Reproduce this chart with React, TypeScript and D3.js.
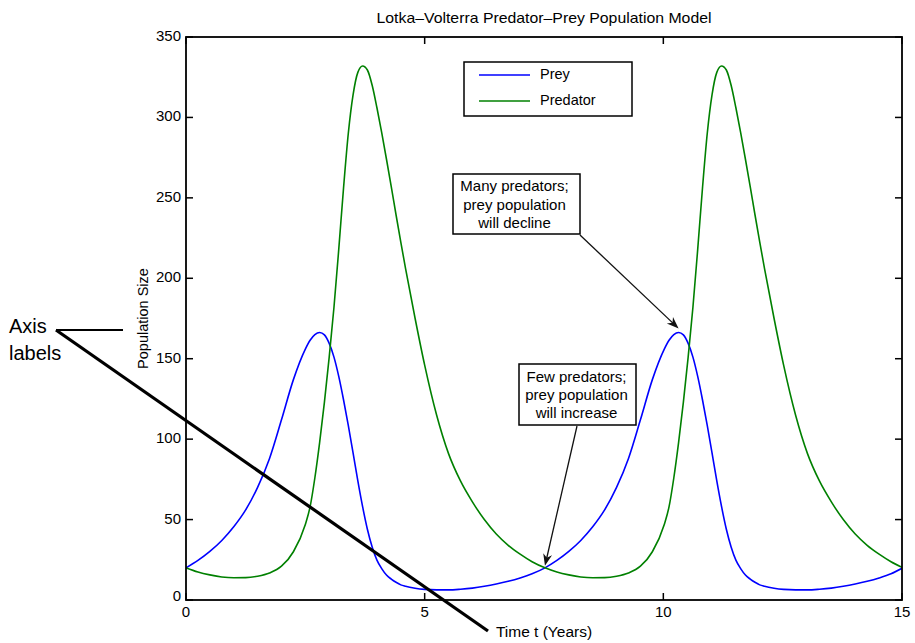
import React from 'react';
import * as d3 from 'd3';

// Time (years) sample points
const years = [
  0, 0.25, 0.5, 0.75, 1, 1.25, 1.5, 1.75, 2, 2.25, 2.5, 2.6, 2.7, 2.8, 2.9, 3, 3.1, 3.2, 3.3, 3.4, 3.5,
  3.6, 3.7, 3.8, 3.9, 4, 4.1, 4.2, 4.3, 4.4, 4.5, 4.6, 4.8, 5, 5.25, 5.5, 5.75, 6, 6.25, 6.5, 6.75, 7, 7.25,
  7.52, 7.77, 8.02, 8.27, 8.52, 8.77, 9.02, 9.27, 9.52, 9.77, 10.02, 10.12, 10.22, 10.32, 10.42, 10.52,
  10.62, 10.72, 10.82, 10.92, 11.02, 11.12, 11.22, 11.32, 11.42, 11.52, 11.62, 11.72, 11.82, 11.92, 12.02,
  12.12, 12.32, 12.52, 12.77, 13.02, 13.27, 13.52, 13.77, 14.02, 14.27, 14.52, 14.77, 15,
];

const prey = [
  20, 24.6, 30.2, 37, 45.5, 56, 70, 88, 112, 137, 156, 161.5, 165, 166.3, 164.8, 159.5, 151, 139, 124.5, 108.5, 91.5,
  74, 58, 44, 33, 24.8, 19.5, 15.5, 13, 11, 9.4, 8.5, 7.3, 6.6, 6.3, 6.3, 6.7, 7.4, 8.5, 9.9, 11.6, 13.7, 16.3,
  20, 24.6, 30.2, 37, 45.5, 56, 70, 88, 112, 137, 156, 161.5, 165, 166.3, 164.8, 159.5, 151, 139, 124.5, 108.5, 91.5,
  74, 58, 44, 33, 24.8, 19.5, 15.5, 13, 11, 9.4, 8.5, 7.3, 6.6, 6.3, 6.3, 6.7, 7.4, 8.5, 9.9, 11.6, 13.7, 16.3,
  19.7,
];

const predator = [
  20, 17.4, 15.6, 14.3, 13.8, 13.9, 14.8, 16.8, 21, 30, 47, 58, 76, 98, 123, 151, 182, 218, 256, 290, 314,
  328, 332, 329.5, 320, 306, 290.5, 274, 257, 239.5, 222.5, 206, 175, 146, 115, 91, 74, 61, 50, 41, 34, 28.5, 23.8,
  20, 17.4, 15.6, 14.3, 13.8, 13.9, 14.8, 16.8, 21, 30, 47, 58, 76, 98, 123, 151, 182, 218, 256, 290, 314,
  328, 332, 329.5, 320, 306, 290.5, 274, 257, 239.5, 222.5, 206, 175, 146, 115, 91, 74, 61, 50, 41, 34, 28.5, 23.8,
  20.3,
];

const seriesNames = ['Prey', 'Predator'];
const seriesColors = ['#0000ff', '#008000'];
const yTicks = [0, 50, 100, 150, 200, 250, 300, 350];
const xTicks = [0, 5, 10, 15];
const titleText = 'Lotka–Volterra Predator–Prey Population Model';
const xLabel = 'Time t (Years)';
const yLabel = 'Population Size';
const noteDecline = ['Many predators;', 'prey population', 'will decline'];
const noteIncrease = ['Few predators;', 'prey population', 'will increase'];
const calloutLines = ['Axis', 'labels'];

const FONT = '"Liberation Sans", Arial, Helvetica, sans-serif';

function arrow(x1: number, y1: number, x2: number, y2: number, key: string) {
  const dx = x2 - x1;
  const dy = y2 - y1;
  const len = Math.sqrt(dx * dx + dy * dy);
  const ux = dx / len;
  const uy = dy / len;
  const L = 12;
  const w = 4.5;
  const bx = x2 - ux * L;
  const by = y2 - uy * L;
  const px = -uy;
  const py = ux;
  const pts = `${x2},${y2} ${bx + px * w},${by + py * w} ${x2 - ux * L * 0.7},${y2 - uy * L * 0.7} ${bx - px * w},${by - py * w}`;
  return (
    <g key={key}>
      <line x1={x1} y1={y1} x2={x2 - ux * 6} y2={y2 - uy * 6} stroke="#111" strokeWidth={1.3} />
      <polygon points={pts} fill="#111" />
    </g>
  );
}

export default function App() {
  const W = 915;
  const H = 643;
  const left = 186;
  const right = 902;
  const top = 37;
  const bottom = 600;

  const x = d3.scaleLinear().domain([0, 15]).range([left, right]);
  const y = d3.scaleLinear().domain([0, 350]).range([bottom, top]);

  const line = d3
    .line<number>()
    .x((_, i) => x(years[i]))
    .y((d) => y(d))
    .curve(d3.curveMonotoneX);

  const series = [prey, predator];
  const tickLen = 7;

  // annotation targets from data
  const peakIdx = years.indexOf(10.32);
  const crossIdx = years.indexOf(7.52);
  const declineTip = [x(years[peakIdx]), y(prey[peakIdx]) - 4];
  const increaseTip = [x(years[crossIdx]), y(prey[crossIdx]) - 2];

  const declineBox = { x: 453, y: 174, w: 127, h: 60 };
  const increaseBox = { x: 519, y: 364, w: 117, h: 61 };

  return (
    <svg
      width={W}
      height={H}
      style={{ position: 'absolute', left: 0, top: 0, background: '#fff' }}
      fontFamily={FONT}
    >
      <rect x={0} y={0} width={W} height={H} fill="#fff" />

      {/* Title */}
      <text
        x={(left + right) / 2}
        y={23}
        textAnchor="middle"
        fontSize={14.5}
        textLength={335}
        lengthAdjust="spacingAndGlyphs"
        fill="#000"
      >
        {titleText}
      </text>

      <defs>
        <clipPath id="plotClip">
          <rect x={left} y={top} width={right - left} height={bottom - top} />
        </clipPath>
      </defs>

      {/* Series */}
      <g clipPath="url(#plotClip)">
        {series.map((s, k) => (
          <path key={seriesNames[k]} d={line(s) || ''} fill="none" stroke={seriesColors[k]} strokeWidth={1.6} />
        ))}
      </g>

      {/* Frame */}
      <rect x={left} y={top} width={right - left} height={bottom - top} fill="none" stroke="#000" strokeWidth={1.8} />

      {/* Y ticks */}
      {yTicks.map((t) => (
        <g key={'y' + t}>
          <line x1={left} x2={left + tickLen} y1={y(t)} y2={y(t)} stroke="#000" strokeWidth={1.5} />
          <line x1={right} x2={right - tickLen} y1={y(t)} y2={y(t)} stroke="#000" strokeWidth={1.5} />
          <text x={left - 5} y={y(t) - (t === 0 ? 3 : 0)} textAnchor="end" dominantBaseline="middle" fontSize={15} fill="#000">
            {t}
          </text>
        </g>
      ))}

      {/* X ticks */}
      {xTicks.map((t) => (
        <g key={'x' + t}>
          <line x1={x(t)} x2={x(t)} y1={bottom} y2={bottom - tickLen} stroke="#000" strokeWidth={1.5} />
          <line x1={x(t)} x2={x(t)} y1={top} y2={top + tickLen} stroke="#000" strokeWidth={1.5} />
          <text x={x(t)} y={617} textAnchor="middle" fontSize={15} fill="#000">
            {t}
          </text>
        </g>
      ))}

      {/* Axis labels */}
      <text x={(left + right) / 2} y={637} textAnchor="middle" fontSize={15.5} fill="#000">
        {xLabel}
      </text>
      <text
        transform={`translate(148,${(top + bottom) / 2}) rotate(-90)`}
        textAnchor="middle"
        fontSize={14.5}
        fill="#000"
      >
        {yLabel}
      </text>

      {/* Legend */}
      <rect x={464} y={62} width={168} height={54} fill="#fff" stroke="#000" strokeWidth={1.5} />
      {seriesNames.map((n, k) => (
        <g key={'lg' + n}>
          <line x1={479} x2={530} y1={75 + k * 26} y2={75 + k * 26} stroke={seriesColors[k]} strokeWidth={1.6} />
          <text x={540} y={75 + k * 26} dominantBaseline="middle" fontSize={14.5} fill="#000">
            {n}
          </text>
        </g>
      ))}

      {/* Annotation: decline */}
      <rect x={declineBox.x} y={declineBox.y} width={declineBox.w} height={declineBox.h} fill="#fff" stroke="#000" strokeWidth={1.5} />
      {noteDecline.map((s, i) => (
        <text key={'nd' + i} x={declineBox.x + declineBox.w / 2 - 2} y={191 + i * 18.5} textAnchor="middle" fontSize={15} fill="#000">
          {s}
        </text>
      ))}
      {arrow(declineBox.x + declineBox.w, declineBox.y + declineBox.h + 1, declineTip[0], declineTip[1], 'a1')}

      {/* Annotation: increase */}
      <rect x={increaseBox.x} y={increaseBox.y} width={increaseBox.w} height={increaseBox.h} fill="#fff" stroke="#000" strokeWidth={1.5} />
      {noteIncrease.map((s, i) => (
        <text key={'ni' + i} x={increaseBox.x + increaseBox.w / 2 - 1} y={382 + i * 18} textAnchor="middle" fontSize={15} fill="#000">
          {s}
        </text>
      ))}
      {arrow(577, increaseBox.y + increaseBox.h + 1, increaseTip[0], increaseTip[1], 'a2')}

      {/* Callout "Axis labels" */}
      {calloutLines.map((s, i) => (
        <text key={'cl' + i} x={9} y={333 + i * 27} fontSize={20} fill="#000">
          {s}
        </text>
      ))}
      <line x1={56} y1={330} x2={123} y2={330} stroke="#000" strokeWidth={2} />
      <line x1={56} y1={330} x2={488} y2={631} stroke="#000" strokeWidth={3.2} />
    </svg>
  );
}
